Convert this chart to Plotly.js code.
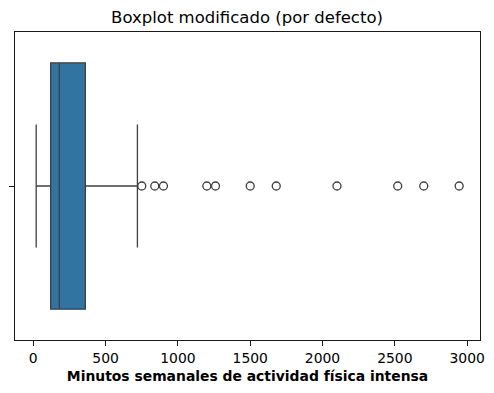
<!DOCTYPE html>
<html>
<head>
<meta charset="utf-8">
<script src="https://cdn.plot.ly/plotly-3.0.1.min.js"></script>
<style>html,body{margin:0;padding:0;background:#fff;}#chart{width:494px;height:393px;}</style>
</head>
<body>
<div id="chart"></div>
<script>
// Summary statistics (minutes per week of vigorous physical activity)
const categories = [0];
const q1 = [120];
const median = [180];
const q3 = [360];
const lowerFence = [20];
const upperFence = [720];
const outliers = [750, 840, 900, 1200, 1260, 1500, 1680, 2100, 2520, 2700, 2945];
const xTickVals = [0, 500, 1000, 1500, 2000, 2500, 3000];

const lineColor = '#3f3f3f';
const boxTrace = {
  type: 'box', orientation: 'h',
  y: categories, q1: q1, median: median, q3: q3,
  lowerfence: lowerFence, upperfence: upperFence,
  width: 0.8, whiskerwidth: 0.5,
  fillcolor: '#3274a1',
  line: {color: lineColor, width: 1.3},
  boxpoints: false, hoverinfo: 'x', showlegend: false
};
const outlierTrace = {
  type: 'scatter', mode: 'markers',
  x: outliers, y: outliers.map(() => categories[0]),
  marker: {symbol: 'circle-open', size: 8, color: lineColor, line: {width: 1.3, color: lineColor}},
  showlegend: false
};
const layout = {
  width: 494, height: 393,
  margin: {l: 15, r: 14, t: 32, b: 53},
  paper_bgcolor: '#fff', plot_bgcolor: '#fff',
  font: {family: 'DejaVu Sans', size: 13.9, color: '#000'},
  title: {text: 'Boxplot modificado (por defecto)', font: {size: 16.5, family: 'DejaVu Sans', color: '#000'}, x: 0.5, xanchor: 'center', y: 1 - 17/393, yanchor: 'middle'},
  xaxis: {
    range: [-126.5, 3089], tickvals: xTickVals, ticktext: xTickVals.map(String),
    ticks: 'outside', ticklen: 5, tickwidth: 0.9, tickcolor: '#000',
    showline: true, linecolor: '#000', linewidth: 0.9, mirror: true,
    showgrid: false, zeroline: false,
    tickfont: {size: 13.9, family: 'DejaVu Sans'},
    title: {text: '<b>Minutos semanales de actividad física intensa</b>', font: {size: 13.9, family: 'DejaVu Sans'}, standoff: 6}
  },
  yaxis: {
    range: [0.5, -0.5], tickvals: categories, ticktext: [''],
    ticks: 'outside', ticklen: 5, tickwidth: 0.9, tickcolor: '#000',
    showline: true, linecolor: '#000', linewidth: 0.9, mirror: true,
    showgrid: false, zeroline: false
  }
};
Plotly.newPlot('chart', [boxTrace, outlierTrace], layout, {displayModeBar: false, staticPlot: true});
</script>
</body>
</html>
